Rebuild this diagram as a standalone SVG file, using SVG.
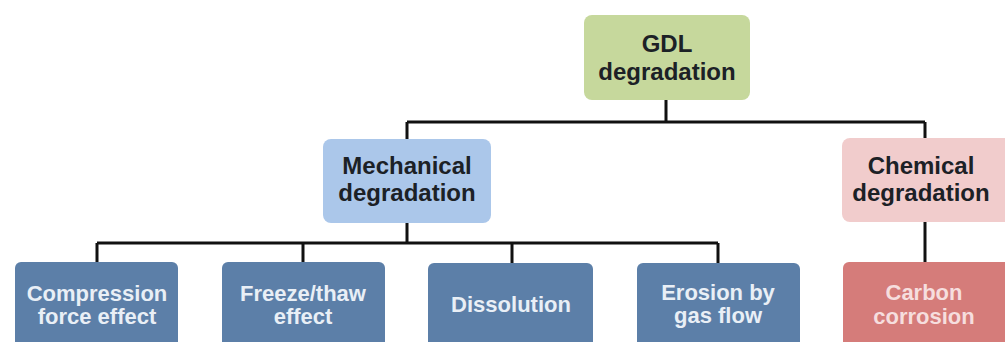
<svg xmlns="http://www.w3.org/2000/svg" width="1005" height="342" viewBox="0 0 1005 342">
<style>
.t{font-family:"Liberation Sans",Arial,sans-serif;font-weight:bold;text-anchor:middle}
.big{font-size:24px;fill:#1c2126}
.small{font-size:22px;fill:#e9eff6}
.cc{fill:#f6dede}
.ln{fill:none;stroke:#111;stroke-width:3}
</style>
<rect width="1005" height="342" fill="#ffffff"/>
<g id="connectors">
<path class="ln" d="M666,100 V122 M407,122 H925 M407,122 V139 M925,122 V138"/>
<path class="ln" d="M407,223 V243 M97,243 H718 M97,243 V262 M303,243 V262 M512,243 V263 M718,243 V263"/>
<path class="ln" d="M925,222 V262"/>
</g>
<g id="gdl">
<rect x="584" y="15" width="166" height="85" rx="8" fill="#c6d89c"/>
<text class="t big" x="667" y="52">GDL</text>
<text class="t big" x="667" y="80">degradation</text>
</g>
<g id="mechanical">
<rect x="323" y="139" width="168" height="84" rx="8" fill="#abc7ea"/>
<text class="t big" x="407" y="174">Mechanical</text>
<text class="t big" x="407" y="201">degradation</text>
</g>
<g id="chemical">
<rect x="842" y="138" width="175" height="84" rx="8" fill="#f1cccc"/>
<text class="t big" x="921" y="174">Chemical</text>
<text class="t big" x="921" y="201">degradation</text>
</g>
<g id="compression">
<rect x="15" y="262" width="163" height="95" rx="6" fill="#5c7fa8"/>
<text class="t small" x="97" y="301">Compression</text>
<text class="t small" x="97" y="324">force effect</text>
</g>
<g id="freeze">
<rect x="222" y="262" width="163" height="95" rx="6" fill="#5c7fa8"/>
<text class="t small" x="303" y="301">Freeze/thaw</text>
<text class="t small" x="303" y="324">effect</text>
</g>
<g id="dissolution">
<rect x="428" y="263" width="165" height="95" rx="6" fill="#5c7fa8"/>
<text class="t small" x="511" y="312">Dissolution</text>
</g>
<g id="erosion">
<rect x="637" y="263" width="163" height="95" rx="6" fill="#5c7fa8"/>
<text class="t small" x="718" y="300">Erosion by</text>
<text class="t small" x="718" y="323">gas flow</text>
</g>
<g id="carbon">
<rect x="843" y="262" width="175" height="95" rx="6" fill="#d57c7a"/>
<text class="t small cc" x="924" y="300">Carbon</text>
<text class="t small cc" x="924" y="324">corrosion</text>
</g>
</svg>
